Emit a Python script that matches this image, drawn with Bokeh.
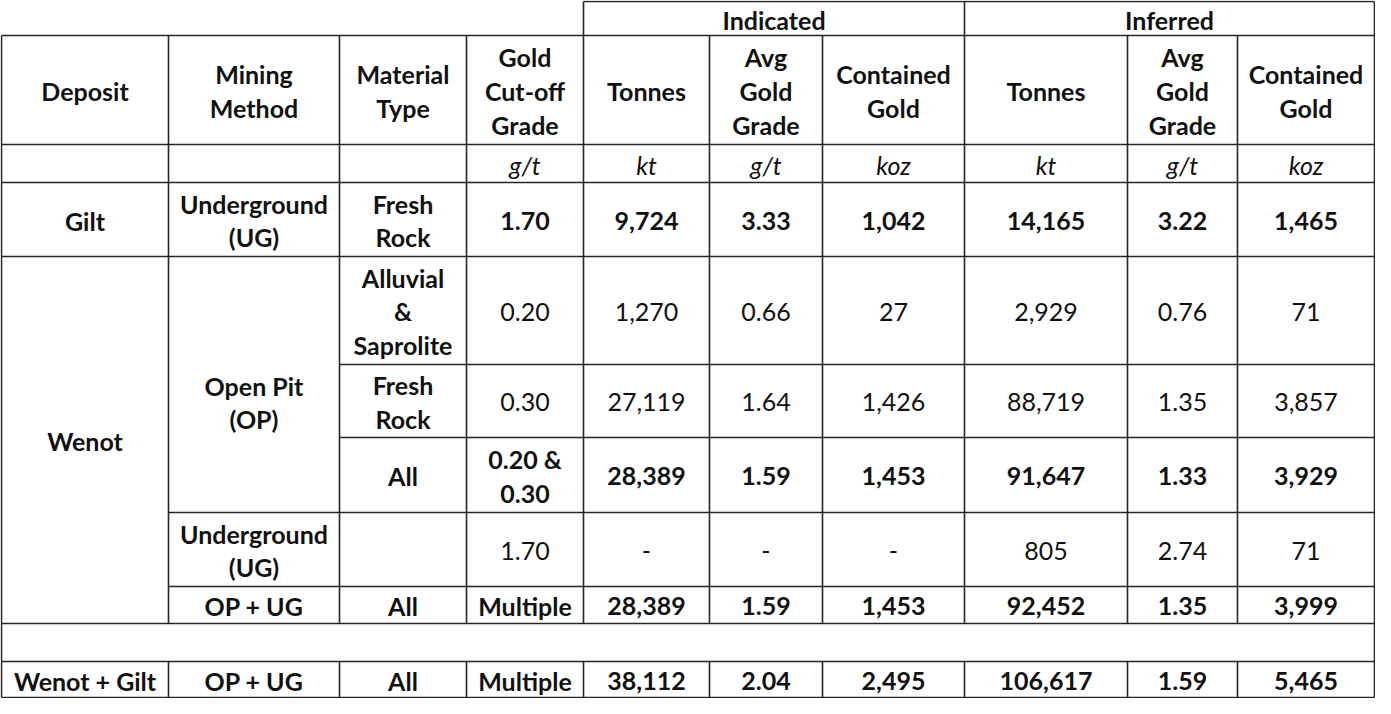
from bokeh.plotting import figure
from bokeh.models import Range1d, ColumnDataSource
from bokeh.core.properties import value
from bokeh.embed import file_html
from bokeh.resources import INLINE

# ---------------- data ----------------
groups = ["Indicated", "Inferred"]
headers = ["Deposit", "Mining\nMethod", "Material\nType", "Gold\nCut-off\nGrade",
           "Tonnes", "Avg\nGold\nGrade", "Contained\nGold",
           "Tonnes", "Avg\nGold\nGrade", "Contained\nGold"]
units = ["", "", "", "g/t", "kt", "g/t", "koz", "kt", "g/t", "koz"]

deposits = ["Gilt", "Wenot", "Wenot + Gilt"]
methods = ["Underground\n(UG)", "Open Pit\n(OP)", "Underground\n(UG)", "OP + UG", "OP + UG"]
materials = ["Fresh\nRock", "Alluvial\n&\nSaprolite", "Fresh\nRock", "All", "", "All", "All"]
cutoff = ["1.70", "0.20", "0.30", "0.20 &\n0.30", "1.70", "Multiple", "Multiple"]
ind_tonnes = [9724, 1270, 27119, 28389, None, 28389, 38112]
ind_grade = [3.33, 0.66, 1.64, 1.59, None, 1.59, 2.04]
ind_gold = [1042, 27, 1426, 1453, None, 1453, 2495]
inf_tonnes = [14165, 2929, 88719, 91647, 805, 92452, 106617]
inf_grade = [3.22, 0.76, 1.35, 1.33, 2.74, 1.35, 1.59]
inf_gold = [1465, 71, 3857, 3929, 71, 3999, 5465]
bold_rows = [True, False, False, True, False, True, True]

# ---------------- layout ----------------
col_edges = [9, 176, 347, 474, 591, 717, 830, 972, 1135, 1245, 1382]
y_top, y_head, y_units, y_data0 = 9, 43, 152, 190
row_edges = [190, 264, 372, 445, 520, 594, 631]   # data rows of Gilt / Wenot
blank_bot = 669
total_bot = 705
row_spans = [(row_edges[i], row_edges[i + 1]) for i in range(6)] + [(blank_bot, total_bot)]

FONT = "Lato"
FS = "25px"
LH = 1.13
TXT = "#111111"
LINE = "#262626"
LW = 1.6

p = figure(width=1375, height=698, x_range=Range1d(8, 1383), y_range=Range1d(706, 8),
           output_backend="svg", toolbar_location=None, min_border=0,
           x_axis_location=None, y_axis_location=None, outline_line_color=None,
           background_fill_color="white", border_fill_color="white")
p.xgrid.visible = False
p.ygrid.visible = False

# ---------------- grid lines ----------------
x0s, y0s, x1s, y1s = [], [], [], []
def seg(a, b, c, d):
    x0s.append(a); y0s.append(b); x1s.append(c); y1s.append(d)

L, R = col_edges[0], col_edges[-1]
seg(col_edges[4], y_top, R, y_top)
for y in [y_head, y_units, y_data0, row_edges[1], row_edges[6], blank_bot, total_bot]:
    seg(L, y, R, y)
for y in [row_edges[2], row_edges[3]]:
    seg(col_edges[2], y, R, y)
for y in [row_edges[4], row_edges[5]]:
    seg(col_edges[1], y, R, y)
seg(L, y_head, L, total_bot)
seg(R, y_top, R, total_bot)
for i in [4, 7]:
    seg(col_edges[i], y_top, col_edges[i], row_edges[6])
for i in [1, 2, 3, 5, 6, 8, 9]:
    seg(col_edges[i], y_head, col_edges[i], row_edges[6])
for i in range(1, 10):
    seg(col_edges[i], blank_bot, col_edges[i], total_bot)
p.segment(x0s, y0s, x1s, y1s, line_color=LINE, line_width=LW)

# ---------------- text ----------------
cells = {"bold": {"x": [], "y": [], "t": []},
         "normal": {"x": [], "y": [], "t": []},
         "italic": {"x": [], "y": [], "t": []}}

def add(style, col, y, t, col_end=None):
    if t == "":
        return
    xe = col_edges[col_end if col_end is not None else col + 1]
    cells[style]["x"].append((col_edges[col] + xe) / 2)
    cells[style]["y"].append(y)
    cells[style]["t"].append(t)

def mid(a, b):
    return (a + b) / 2 + 1

add("bold", 4, mid(y_top, y_head), groups[0], 7)
add("bold", 7, mid(y_top, y_head), groups[1], 10)
for c, h in enumerate(headers):
    add("bold", c, mid(y_head, y_units), h)
    add("italic", c, mid(y_units, y_data0), units[c])

add("bold", 0, mid(*row_spans[0]), deposits[0])
add("bold", 0, mid(row_spans[1][0], row_spans[5][1]), deposits[1])
add("bold", 0, mid(*row_spans[6]), deposits[2])
add("bold", 1, mid(*row_spans[0]), methods[0])
add("bold", 1, mid(row_spans[1][0], row_spans[3][1]) + 17, methods[1])
add("bold", 1, mid(*row_spans[4]), methods[2])
add("bold", 1, mid(*row_spans[5]), methods[3])
add("bold", 1, mid(*row_spans[6]), methods[4])

def fmt_int(v):
    return "-" if v is None else f"{v:,}"

def fmt_dec(v):
    return "-" if v is None else f"{v:.2f}"

for r in range(7):
    y = mid(*row_spans[r])
    st = "bold" if bold_rows[r] else "normal"
    add("bold", 2, y, materials[r])
    add(st, 3, y, cutoff[r])
    add(st, 4, y, fmt_int(ind_tonnes[r]))
    add(st, 5, y, fmt_dec(ind_grade[r]))
    add(st, 6, y, fmt_int(ind_gold[r]))
    add(st, 7, y, fmt_int(inf_tonnes[r]))
    add(st, 8, y, fmt_dec(inf_grade[r]))
    add(st, 9, y, fmt_int(inf_gold[r]))

for style, d in cells.items():
    src = ColumnDataSource(dict(x=d["x"], y=d["y"], t=d["t"]))
    p.text(x="x", y="y", text="t", source=src, text_align="center", text_baseline="middle",
           text_font=value(FONT), text_font_size=FS, text_color=TXT,
           text_font_style=style, text_line_height=LH)

open("out.html", "w").write(file_html(p, INLINE))
